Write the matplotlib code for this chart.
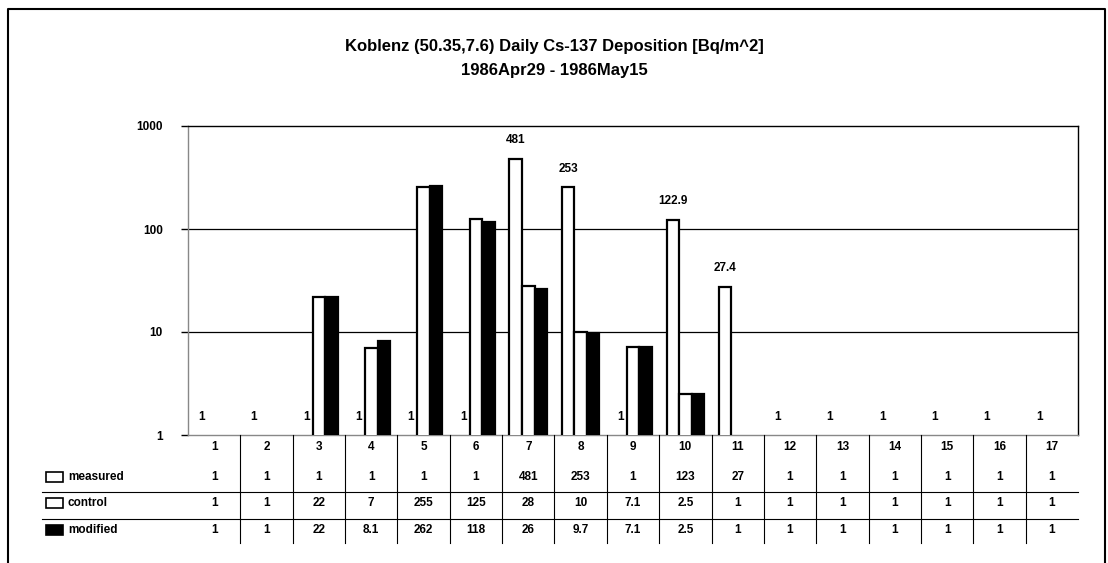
import numpy as np
import matplotlib
matplotlib.use('Agg')
import matplotlib.pyplot as plt
import matplotlib.transforms as mtransforms
from matplotlib.lines import Line2D
from matplotlib.patches import Rectangle

plt.rcParams['font.family'] = ['Liberation Sans', 'DejaVu Sans']
plt.rcParams['font.weight'] = 'bold'

# Data
days = ['1', '2', '3', '4', '5', '6', '7', '8', '9', '10', '11', '12', '13', '14', '15', '16', '17']
measured = [1, 1, 1, 1, 1, 1, 481, 253, 1, 122.9, 27.4, 1, 1, 1, 1, 1, 1]
control = [1, 1, 22, 7, 255, 125, 28, 10, 7.1, 2.5, 1, 1, 1, 1, 1, 1, 1]
modified = [1, 1, 22, 8.1, 262, 118, 26, 9.7, 7.1, 2.5, 1, 1, 1, 1, 1, 1, 1]

# table text as printed under the chart
measured_txt = ['1', '1', '1', '1', '1', '1', '481', '253', '1', '123', '27', '1', '1', '1', '1', '1', '1']
control_txt = ['1', '1', '22', '7', '255', '125', '28', '10', '7.1', '2.5', '1', '1', '1', '1', '1', '1', '1']
modified_txt = ['1', '1', '22', '8.1', '262', '118', '26', '9.7', '7.1', '2.5', '1', '1', '1', '1', '1', '1', '1']
# data labels above measured bars
measured_lbl = ['1', '1', '1', '1', '1', '1', '481', '253', '1', '122.9', '27.4', '1', '1', '1', '1', '1', '1']

W, H = 1108, 563
fig = plt.figure(figsize=(W / 100, H / 100), dpi=100)
fig.patch.set_facecolor('white')

def fx(px):
    return px / W

def fy(py):
    return 1 - py / H

ax = fig.add_axes([fx(188), fy(435), fx(1078) - fx(188), fy(126) - fy(435)])
ax.set_yscale('log')
ax.set_ylim(1, 1000)
ax.set_xlim(-0.5, len(days) - 0.5)

x = np.arange(len(days))
w = 0.24

# bars of height 1 sit on the axis floor and show no outline
def edge_w(vals):
    return [0 if v <= 1 else 1.6 for v in vals]

ax.bar(x - w, measured, w, color='white', edgecolor='black', linewidth=edge_w(measured), zorder=3)
ax.bar(x, control, w, color='white', edgecolor='black', linewidth=edge_w(control), zorder=3)
ax.bar(x + w, modified, w, color='black', edgecolor='black', linewidth=edge_w(modified), zorder=3)

# value labels on the measured series
for xi, v, lbl in zip(x, measured, measured_lbl):
    ax.annotate(lbl, (xi - w, v), xytext=(0, 9), textcoords='offset points',
                ha='center', va='bottom', fontsize=8.5, fontweight='bold')

# gridlines
for g in [10, 100]:
    ax.axhline(g, color='black', lw=0.9, zorder=1)

ax.set_yticks([1, 10, 100, 1000])
ax.set_yticklabels(['1', '10', '100', '1000'])
ax.yaxis.set_minor_locator(matplotlib.ticker.NullLocator())
ax.tick_params(axis='y', direction='out', length=5, width=1, pad=13, labelsize=8.5)
ax.set_xticks(x)
ax.set_xticklabels(days)
ax.tick_params(axis='x', length=0, pad=4, labelsize=8.5)

ax.spines['top'].set_color('black')
ax.spines['right'].set_color('black')
ax.spines['left'].set_color('#888888')
ax.spines['bottom'].set_color('#888888')
for s in ax.spines.values():
    s.set_linewidth(1.0)

# title
fig.text(0.5, fy(46), 'Koblenz (50.35,7.6) Daily Cs-137 Deposition [Bq/m^2]',
         ha='center', va='center', fontsize=12, fontweight='bold')
fig.text(0.5, fy(70), '1986Apr29 - 1986May15',
         ha='center', va='center', fontsize=12, fontweight='bold')

# data table under the chart
trans = mtransforms.blended_transform_factory(ax.transData, fig.transFigure)
rows = [('measured', measured_txt, 477, 'white'),
        ('control', control_txt, 503, 'white'),
        ('modified', modified_txt, 530, 'black')]
for name, vals, py, fc in rows:
    for xi, t in zip(x, vals):
        fig.text(xi, fy(py), t, transform=trans, ha='center', va='center',
                 fontsize=8.5, fontweight='bold')
    fig.add_artist(Rectangle((fx(46), fy(py + 5)), fx(17), 10 / H,
                             transform=fig.transFigure, facecolor=fc,
                             edgecolor='black', lw=1.2))
    fig.text(fx(68), fy(py), name, ha='left', va='center', fontsize=8.5,
             fontweight='bold')

for py in [492, 519]:
    fig.add_artist(Line2D([fx(42), fx(1078)], [fy(py), fy(py)],
                          transform=fig.transFigure, color='black', lw=0.8))
for xb in x[:-1] + 0.5:
    fig.add_artist(Line2D([xb, xb], [fy(435), fy(543)], transform=trans,
                          color='black', lw=0.8))

# outer frame
fig.add_artist(Line2D([fx(8), fx(8), fx(1105), fx(1105)], [0, fy(9), fy(9), 0],
                      transform=fig.transFigure, color='black', lw=1.5))

fig.savefig('out.png', dpi=100)
